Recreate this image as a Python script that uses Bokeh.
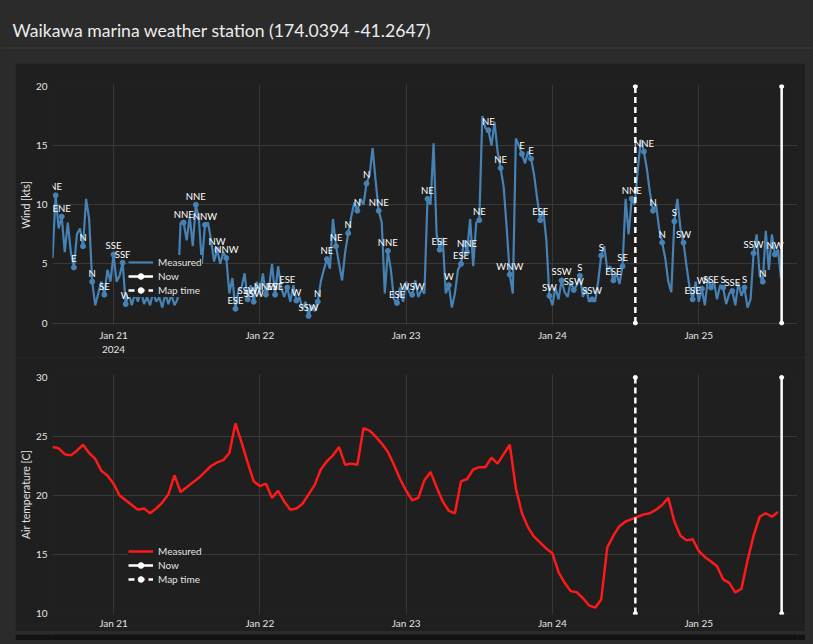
import numpy as np
import pandas as pd
from bokeh.plotting import figure
from bokeh.models import (ColumnDataSource, Range1d, FixedTicker, DatetimeTickFormatter,
                          Legend, LegendItem, Label)
from bokeh.layouts import column
from bokeh.core.properties import value
from bokeh.embed import file_html
from bokeh.resources import INLINE

# ---------------- data ----------------
title_text = "Waikawa marina weather station (174.0394 -41.2647)"
day0 = pd.Timestamp("2024-01-20 00:00")

wind_first_hour = 14.0
wind_step_hours = 0.5
wind_kts = [
    5.5, 10.8, 8.0, 9.0, 6.0, 8.5, 6.0, 4.7, 7.5, 8.0, 6.5, 10.5,
    8.8, 3.5, 1.5, 2.5, 3.5, 2.4, 4.5, 3.5, 5.8, 3.5, 4.0, 5.1,
    1.6, 2.5, 1.5, 2.5, 1.8, 2.8, 1.6, 2.2, 1.5, 2.6, 1.8, 2.2,
    1.3, 2.5, 1.6, 2.4, 1.5, 2.0, 8.5, 8.5, 7.0, 9.0, 6.5, 10.0,
    8.8, 5.0, 8.3, 8.5, 7.0, 5.2, 6.2, 5.0, 6.0, 5.5, 2.5, 3.8,
    1.2, 2.8, 3.0, 4.2, 2.0, 3.2, 1.8, 3.5, 2.4, 4.2, 2.4, 3.0,
    5.0, 2.4, 4.8, 3.0, 2.2, 3.0, 1.8, 3.2, 1.9, 2.2, 1.2, 1.8,
    0.6, 1.5, 1.0, 1.8, 3.5, 4.5, 5.4, 4.6, 8.8, 6.5, 5.0, 3.6,
    6.0, 7.6, 9.0, 10.2, 9.5, 10.5, 10.0, 11.8, 12.5, 14.8, 12.0, 9.5,
    8.5, 2.5, 6.1, 4.5, 2.0, 1.7, 3.0, 1.8, 3.5, 2.6, 2.4, 3.6,
    2.2, 2.8, 2.5, 10.5, 10.0, 15.2, 7.5, 6.2, 7.2, 2.5, 3.2, 1.3,
    2.5, 4.5, 5.0, 7.0, 6.0, 8.8, 4.8, 8.5, 8.7, 17.5, 16.5, 16.3,
    15.0, 17.0, 14.5, 13.1, 11.5, 8.0, 4.1, 2.5, 15.6, 15.0, 14.3, 13.5,
    14.5, 13.9, 12.5, 10.5, 8.7, 9.5, 7.0, 2.3, 1.5, 3.0, 2.0, 3.6,
    2.6, 2.2, 3.5, 2.8, 3.2, 4.0, 2.2, 3.0, 1.8, 2.0, 1.8, 3.5,
    5.7, 6.5, 4.5, 4.8, 3.6, 4.2, 3.3, 4.8, 10.5, 7.5, 10.5, 10.0,
    13.0, 15.5, 14.5, 13.0, 11.0, 9.5, 10.0, 8.0, 6.8, 5.5, 3.5, 2.6,
    8.6, 10.5, 8.0, 6.8, 4.8, 3.0, 2.0, 3.5, 1.8, 2.9, 1.5, 3.8,
    3.0, 3.5, 2.0, 3.2, 3.0, 1.6, 2.5, 2.7, 1.5, 3.4, 2.3, 3.0,
    1.3, 2.0, 5.9, 7.5, 4.0, 3.5, 7.8, 4.5, 7.5, 5.8, 6.2, 3.8,
]

temp_first_hour = 14.0
temp_step_hours = 1.0
temp_c = [
    24.1, 24.0, 23.5, 23.4, 23.8, 24.3, 23.6, 23.1, 22.1, 21.7, 21.0, 20.0,
    19.6, 19.2, 18.8, 18.9, 18.5, 18.9, 19.4, 20.1, 21.7, 20.3, 20.7, 21.1,
    21.5, 22.0, 22.5, 22.8, 23.0, 23.6, 26.1, 24.5, 22.8, 21.2, 20.8, 21.0,
    19.8, 20.4, 19.5, 18.8, 18.9, 19.3, 20.1, 20.9, 22.2, 22.9, 23.4, 24.1,
    22.6, 22.7, 22.6, 25.7, 25.5, 25.0, 24.4, 23.7, 22.6, 21.4, 20.4, 19.6,
    19.8, 21.3, 22.0, 20.7, 19.5, 18.7, 18.5, 21.2, 21.4, 22.2, 22.4, 22.4,
    23.2, 22.7, 23.5, 24.3, 20.6, 18.5, 17.3, 16.5, 16.0, 15.5, 15.1, 13.5,
    12.6, 11.9, 11.8, 11.3, 10.7, 10.5, 11.2, 15.6, 16.6, 17.4, 17.8, 18.0,
    18.2, 18.4, 18.5, 18.8, 19.2, 19.8, 17.8, 16.6, 16.2, 16.3, 15.3, 14.8,
    14.4, 14.0, 12.9, 12.6, 11.8, 12.1, 14.5, 16.6, 18.2, 18.5, 18.2, 18.6,
]

dir_hours = [14.5, 15.5, 17.5, 19.0, 20.5, 22.5, 24.0, 25.5, 26.0, 35.5,
             37.5, 39.0, 41.0, 42.5, 44.0, 46.0, 47.0, 49.0, 50.5, 52.5,
             54.0, 56.0, 57.5, 59.0, 60.5, 62.5, 64.0, 65.5, 67.5, 69.0,
             70.5, 73.0, 75.5, 77.5, 79.0, 81.0, 82.0, 84.0, 85.5, 87.5,
             89.0, 91.0, 92.5, 94.0, 95.5, 97.5, 99.5, 100.5, 102.5, 104.0,
             106.0, 107.5, 109.0, 111.0, 112.5, 114.0, 116.0, 117.5, 119.0, 120.5,
             122.0, 124.0, 125.5, 127.5, 129.0, 130.5, 132.5]
dir_labels = ["NE", "ENE", "E", "N", "N", "SE", "SSE", "SSE", "W", "NNE",
              "NNE", "NNW", "NW", "NNW", "ESE", "SSW", "SSW", "NNW", "ESE", "ESE",
              "W", "SSW", "N", "NE", "NE", "N", "N", "N", "NNE", "NNE",
              "ESE", "WSW", "NE", "ESE", "W", "ESE", "NNE", "NE", "NE", "NE",
              "WNW", "E", "E", "ESE", "SW", "SSW", "SSW", "S", "SSW", "S",
              "ESE", "SE", "NNE", "NNE", "N", "N", "S", "SW", "ESE", "W",
              "SSE", "S", "SSE", "S", "SSW", "N", "NW"]
dir_kts = [10.8, 9.0, 4.7, 6.5, 3.5, 2.4, 5.8, 5.1, 1.6, 8.5,
           10.0, 8.3, 6.2, 5.5, 1.2, 2.0, 1.8, 2.4, 2.4, 3.0,
           1.9, 0.6, 1.8, 5.4, 6.5, 7.6, 9.5, 11.8, 9.5, 6.1,
           1.7, 2.4, 10.5, 6.2, 3.2, 5.0, 6.0, 8.7, 16.3, 13.1,
           4.1, 14.3, 13.9, 8.7, 2.3, 3.6, 2.8, 4.0, 2.0, 5.7,
           3.6, 4.8, 10.5, 14.5, 9.5, 6.8, 8.6, 6.8, 2.0, 2.9,
           3.0, 3.0, 2.7, 3.0, 5.9, 3.5, 5.8]

now_hour = 133.6
map_hour = 109.6
tick_days = ["2024-01-21", "2024-01-22", "2024-01-23", "2024-01-24", "2024-01-25"]
wind_ticks = [0, 5, 10, 15, 20]
wind_grid = [0, 5, 10, 15]
temp_ticks = [10, 15, 20, 25, 30]
temp_grid = [15, 20, 25]
wind_span = [0, 20]
temp_span = [10, 30]
legend_labels = ["Measured", "Now", "Map time"]
wind_axis_label = "Wind [kts]"
temp_axis_label = "Air temperature [C]"

# ---------------- style ----------------
FONT = "Lato"
OUTER = "#2b2b2b"
PANEL = "#1f1f1f"
GRID = "#383838"
TXT = "#e4e4e4"
BLUE = "#4682b4"
RED = "#ff1a1a"


def hours_to_time(h):
    return day0 + pd.to_timedelta(np.asarray(h, dtype=float), unit="h")


def series_times(first, step, n):
    return hours_to_time(first + step * np.arange(n))


tick_ms = [pd.Timestamp(d).value / 1e6 for d in tick_days]
x_start = day0 + pd.Timedelta(hours=13.99)
x_end = day0 + pd.Timedelta(hours=136.2)


def make_panel(height, mb_top, mb_bottom, yr, yticks, ygrid, ylabel, year):
    p = figure(width=790, height=height, x_axis_type="datetime",
               x_range=Range1d(x_start, x_end), y_range=Range1d(*yr),
               toolbar_location=None, output_backend="svg",
               min_border_left=37, min_border_right=8,
               min_border_top=mb_top, min_border_bottom=mb_bottom,
               background_fill_color=PANEL, border_fill_color=PANEL,
               outline_line_color=None)
    p.xaxis.ticker = FixedTicker(ticks=tick_ms)
    fmt = dict(days="%b %d", hours="%b %d", hourmin="%b %d", months="%b %d")
    if year:
        p.xaxis.formatter = DatetimeTickFormatter(context="%Y", context_which="start", **fmt)
    else:
        p.xaxis.formatter = DatetimeTickFormatter(**fmt)
    p.yaxis.ticker = FixedTicker(ticks=yticks)
    for ax in (p.xaxis[0], p.yaxis[0]):
        ax.axis_line_color = None
        ax.major_tick_line_color = None
        ax.minor_tick_line_color = None
        ax.major_tick_out = 0
        ax.major_tick_in = 0
        ax.minor_tick_out = 0
        ax.minor_tick_in = 0
        ax.major_label_text_color = TXT
        ax.major_label_text_font = FONT
        ax.major_label_text_font_size = "10px"
    p.xaxis.major_label_standoff = 3
    p.yaxis.major_label_standoff = 5
    p.yaxis.axis_label = ylabel
    p.yaxis.axis_label_text_font = FONT
    p.yaxis.axis_label_text_font_size = "10.5px"
    p.yaxis.axis_label_text_font_style = "normal"
    p.yaxis.axis_label_text_color = TXT
    p.yaxis.axis_label_standoff = 1
    p.grid.grid_line_color = GRID
    p.grid.grid_line_width = 1
    p.ygrid.ticker = FixedTicker(ticks=ygrid)
    return p


def add_markers(p, span):
    now_src = ColumnDataSource(dict(x=hours_to_time([now_hour, now_hour]), y=span))
    map_src = ColumnDataSource(dict(x=hours_to_time([map_hour, map_hour]), y=span))
    nl = p.line("x", "y", source=now_src, line_color="white", line_width=2.5)
    nm = p.scatter("x", "y", source=now_src, size=4, color="white")
    ml = p.line("x", "y", source=map_src, line_color="white", line_width=2.5, line_dash="6 4")
    mm = p.scatter("x", "y", source=map_src, size=4, color="white")
    return (nl, nm), (ml, mm)


def add_legend(p, measured, now_r, map_r):
    leg = Legend(items=[LegendItem(label=legend_labels[0], renderers=[measured]),
                        LegendItem(label=legend_labels[1], renderers=list(now_r)),
                        LegendItem(label=legend_labels[2], renderers=list(map_r))],
                 location=(76, 28), background_fill_color=PANEL, background_fill_alpha=1.0,
                 border_line_color=None, label_text_color=TXT, label_text_font=FONT,
                 label_text_font_size="10px", glyph_width=25, glyph_height=14,
                 label_height=14, spacing=0, padding=1, margin=0, label_standoff=5)
    p.add_layout(leg)


def blank(width, height, color):
    f = figure(width=width, height=height, toolbar_location=None, output_backend="svg",
               min_border=0, background_fill_color=color, border_fill_color=color,
               outline_line_color=None, x_range=Range1d(0, width), y_range=Range1d(height, 0))
    f.axis.visible = False
    f.grid.visible = False
    return f


# ---------------- header ----------------
header = blank(813, 63, OUTER)
header.segment(x0=[0], y0=[47.5], x1=[813], y1=[47.5], line_color="#3a3a3a", line_width=1)
header.add_layout(Label(x=12, y=30, text=title_text, text_baseline="middle", text_align="left",
                        text_font=FONT, text_font_size="17.6px", text_color="#ececec"))

# ---------------- wind ----------------
pw = make_panel(294, 21, 31, (-0.21, 20.17), wind_ticks, wind_grid, wind_axis_label, True)
wsrc = ColumnDataSource(dict(t=series_times(wind_first_hour, wind_step_hours, len(wind_kts)), v=wind_kts))
wl = pw.line("t", "v", source=wsrc, line_color=BLUE, line_width=2.2)
dsrc = ColumnDataSource(dict(t=hours_to_time(dir_hours), v=dir_kts, d=dir_labels))
pw.scatter("t", "v", source=dsrc, size=5, color=BLUE)
pw.text("t", "v", text="d", source=dsrc, text_font=value(FONT), text_font_size="9.5px",
        text_color="white", text_align="center", text_baseline="bottom", y_offset=-3)
now_r, map_r = add_markers(pw, wind_span)
add_legend(pw, wl, now_r, map_r)

# ---------------- temperature ----------------
pt = make_panel(274, 17, 16, (9.92, 30.25), temp_ticks, temp_grid, temp_axis_label, False)
pt.xaxis.major_label_standoff = 2
tsrc = ColumnDataSource(dict(t=series_times(temp_first_hour, temp_step_hours, len(temp_c)), v=temp_c))
tl = pt.line("t", "v", source=tsrc, line_color=RED, line_width=2.5)
now_r2, map_r2 = add_markers(pt, temp_span)
add_legend(pt, tl, now_r2, map_r2)

footer = blank(790, 9, "#121212")

layout = column(header, column(pw, pt, footer, margin=(0, 8, 0, 15)))

open("out.html", "w").write(
    file_html(layout, INLINE).replace("</head>", "<style>body{background:#2b2b2b;}</style></head>", 1))
